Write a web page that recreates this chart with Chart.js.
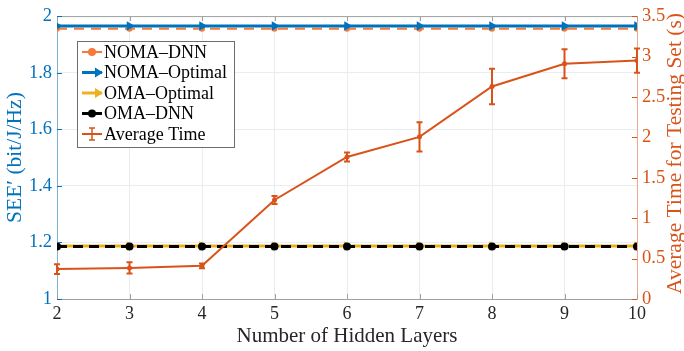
<!DOCTYPE html>
<html><head><meta charset="utf-8">
<script src="https://cdn.jsdelivr.net/npm/chart.js@4.4.1/dist/chart.umd.min.js"></script>
<style>html,body{margin:0;padding:0;background:#fff;}#wrap{width:684px;height:351px;}</style>
</head><body><div id="wrap"><canvas id="c" width="684" height="351"></canvas></div>
<script>
const layers = [2, 3, 4, 5, 6, 7, 8, 9, 10];
const nomaDnn = [1.955, 1.955, 1.955, 1.955, 1.955, 1.955, 1.955, 1.955, 1.955];
const nomaOptimal = [1.965, 1.965, 1.965, 1.965, 1.965, 1.965, 1.965, 1.965, 1.965];
const omaOptimal = [1.187, 1.187, 1.187, 1.187, 1.187, 1.187, 1.187, 1.187, 1.187];
const omaDnn = [1.186, 1.186, 1.186, 1.186, 1.186, 1.186, 1.186, 1.186, 1.186];
const avgTime = [0.37, 0.385, 0.41, 1.225, 1.757, 2.006, 2.63, 2.91, 2.95];
const timeErr = [0.06, 0.07, 0.03, 0.05, 0.055, 0.18, 0.22, 0.18, 0.15];
const leftTicks = [1, 1.2, 1.4, 1.6, 1.8, 2];
const rightTicks = [0, 0.5, 1, 1.5, 2, 2.5, 3, 3.5];
const legendLabels = ['NOMA\u2013DNN', 'NOMA\u2013Optimal', 'OMA\u2013Optimal', 'OMA\u2013DNN', 'Average Time'];
const xTitle = 'Number of Hidden Layers';
const yTitle = 'SEE\u2032 (bit/J/Hz)';
const y1Title = 'Average Time for Testing Set (s)';

const BLUE = '#0072BD', ORANGE = '#D95319', LORANGE = '#F5793A', YELLOW = '#EDB120', BLACK = '#000000';
const FONT = "'Liberation Serif', 'DejaVu Serif', serif";
const pts = v => layers.map((l, i) => ({x: l, y: v[i]}));

const deco = {
  id: 'deco',
  afterDatasetsDraw(chart) {
    const ctx = chart.ctx, a = chart.chartArea;
    const xs = chart.scales.x, y = chart.scales.y, y1 = chart.scales.y1;
    ctx.save();
    // error bars
    ctx.strokeStyle = ORANGE; ctx.lineWidth = 2;
    layers.forEach((l, i) => {
      const px = xs.getPixelForValue(l);
      const t = y1.getPixelForValue(avgTime[i] + timeErr[i]);
      const b = y1.getPixelForValue(avgTime[i] - timeErr[i]);
      ctx.beginPath();
      ctx.moveTo(px, t); ctx.lineTo(px, b);
      ctx.moveTo(px - 3, t); ctx.lineTo(px + 3, t);
      ctx.moveTo(px - 3, b); ctx.lineTo(px + 3, b);
      ctx.stroke();
    });
    // top border
    ctx.lineWidth = 1;
    ctx.strokeStyle = '#a0a0a0';
    ctx.beginPath(); ctx.moveTo(a.left, a.top + 0.5); ctx.lineTo(a.right, a.top + 0.5); ctx.stroke();
    // inward ticks
    layers.forEach(l => {
      const px = Math.round(xs.getPixelForValue(l)) + 0.5;
      ctx.beginPath();
      ctx.moveTo(px, a.bottom); ctx.lineTo(px, a.bottom - 5);
      ctx.moveTo(px, a.top); ctx.lineTo(px, a.top + 5);
      ctx.stroke();
    });
    ctx.strokeStyle = BLUE;
    leftTicks.forEach(v => {
      const py = Math.round(y.getPixelForValue(v)) + 0.5;
      ctx.beginPath(); ctx.moveTo(a.left, py); ctx.lineTo(a.left + 5, py); ctx.stroke();
    });
    ctx.strokeStyle = ORANGE;
    rightTicks.forEach(v => {
      const py = Math.round(y1.getPixelForValue(v)) + 0.5;
      ctx.beginPath(); ctx.moveTo(a.right, py); ctx.lineTo(a.right - 5, py); ctx.stroke();
    });
    // axis titles
    ctx.textAlign = 'center'; ctx.textBaseline = 'middle';
    ctx.font = '21px ' + FONT;
    ctx.fillStyle = '#262626';
    ctx.fillText(xTitle, (a.left + a.right) / 2, 336);
    ctx.font = '21.5px ' + FONT;
    ctx.save(); ctx.translate(15, (a.top + a.bottom) / 2); ctx.rotate(-Math.PI / 2);
    ctx.fillStyle = BLUE; ctx.fillText(yTitle, 0, 0); ctx.restore();
    ctx.save(); ctx.translate(675, (a.top + a.bottom) / 2 - 4); ctx.rotate(-Math.PI / 2);
    ctx.fillStyle = ORANGE; ctx.fillText(y1Title, 0, 0); ctx.restore();
    // legend
    const lx = 77, ly = 41, lw = 157, lh = 106;
    ctx.fillStyle = '#fff';
    ctx.fillRect(lx, ly, lw, lh);
    ctx.strokeStyle = '#6e6e6e'; ctx.lineWidth = 1;
    ctx.strokeRect(lx + 0.5, ly + 0.5, lw, lh);
    const rows = [52, 72.5, 93, 113.5, 134];
    ctx.font = '18px ' + FONT;
    ctx.textBaseline = 'middle'; ctx.textAlign = 'left';
    chart.data.datasets.forEach((ds, i) => {
      const ry = rows[i];
      const x0 = 82, x1 = 102, xm = 92;
      ctx.strokeStyle = ds.borderColor; ctx.lineWidth = ds.borderWidth;
      ctx.setLineDash([]);
      ctx.beginPath(); ctx.moveTo(x0, ry); ctx.lineTo(x1, ry); ctx.stroke();
      if (i === 4) {
        ctx.lineWidth = 1.5;
        ctx.beginPath();
        ctx.moveTo(xm, ry - 6); ctx.lineTo(xm, ry + 6);
        ctx.moveTo(xm - 3, ry - 6); ctx.lineTo(xm + 3, ry - 6);
        ctx.moveTo(xm - 3, ry + 6); ctx.lineTo(xm + 3, ry + 6);
        ctx.stroke();
      } else if (ds.pointStyle === 'triangle') {
        ctx.fillStyle = ds.pointBackgroundColor;
        ctx.beginPath();
        ctx.moveTo(x1 + 1, ry); ctx.lineTo(x1 - 7, ry - 5); ctx.lineTo(x1 - 7, ry + 5); ctx.closePath(); ctx.fill();
      } else {
        ctx.fillStyle = ds.pointBackgroundColor;
        ctx.beginPath(); ctx.arc(xm, ry, 4, 0, Math.PI * 2); ctx.fill();
      }
      ctx.fillStyle = '#000';
      ctx.fillText(legendLabels[i], 104, ry + 1);
    });
    ctx.restore();
  }
};

new Chart(document.getElementById('c'), {
  type: 'line',
  data: {
    datasets: [
      {label: legendLabels[0], data: pts(nomaDnn), yAxisID: 'y', borderColor: LORANGE, backgroundColor: LORANGE,
       pointBackgroundColor: LORANGE, borderWidth: 2, borderDash: [10, 7], pointStyle: 'circle', pointRadius: 3, pointBorderWidth: 0, order: 5},
      {label: legendLabels[1], data: pts(nomaOptimal), yAxisID: 'y', borderColor: BLUE, backgroundColor: BLUE,
       pointBackgroundColor: BLUE, borderWidth: 3, pointStyle: 'triangle', pointRotation: 90, pointRadius: 5.5, pointBorderWidth: 0, order: 4},
      {label: legendLabels[2], data: pts(omaOptimal), yAxisID: 'y', borderColor: YELLOW, backgroundColor: YELLOW,
       pointBackgroundColor: YELLOW, borderWidth: 3, pointStyle: 'triangle', pointRotation: 90, pointRadius: 5.5, pointBorderWidth: 0, order: 3},
      {label: legendLabels[3], data: pts(omaDnn), yAxisID: 'y', borderColor: BLACK, backgroundColor: BLACK,
       pointBackgroundColor: BLACK, borderWidth: 3, borderDash: [10, 6], pointStyle: 'circle', pointRadius: 4, pointBorderWidth: 0, order: 2},
      {label: legendLabels[4], data: pts(avgTime), yAxisID: 'y1', borderColor: ORANGE, backgroundColor: ORANGE,
       pointBackgroundColor: ORANGE, borderWidth: 2, pointStyle: 'circle', pointRadius: 2.5, pointBorderWidth: 0, order: 1}
    ]
  },
  options: {
    responsive: false, animation: false, devicePixelRatio: 1,
    layout: {padding: {top: 14, left: 0, right: 0, bottom: 0}},
    plugins: {legend: {display: false}, tooltip: {enabled: false}},
    scales: {
      x: {type: 'linear', min: 2, max: 10,
          afterBuildTicks: s => { s.ticks = layers.map(v => ({value: v})); },
          afterFit: s => { s.height = 52; },
          grid: {color: '#e9edf1', drawTicks: false, lineWidth: 1},
          border: {color: '#a0a0a0', width: 1},
          ticks: {color: '#262626', font: {family: FONT, size: 18}, padding: 4, maxRotation: 0},
          title: {display: false}},
      y: {type: 'linear', position: 'left', min: 1, max: 2,
          afterBuildTicks: s => { s.ticks = leftTicks.map(v => ({value: v})); },
          afterFit: s => { s.width = 57; },
          grid: {color: '#e9edf1', drawTicks: false},
          border: {color: '#7fb3dc', width: 1},
          ticks: {color: BLUE, font: {family: FONT, size: 18.5}, padding: 5, callback: v => String(v)},
          title: {display: false}},
      y1: {type: 'linear', position: 'right', min: 0, max: 3.5,
          afterBuildTicks: s => { s.ticks = rightTicks.map(v => ({value: v})); },
          afterFit: s => { s.width = 47; },
          grid: {display: false, drawTicks: false},
          border: {color: '#eca98c', width: 1},
          ticks: {color: ORANGE, font: {family: FONT, size: 18.5}, padding: 5, callback: v => String(v)},
          title: {display: false}}
    }
  },
  plugins: [deco]
});
</script></body></html>
